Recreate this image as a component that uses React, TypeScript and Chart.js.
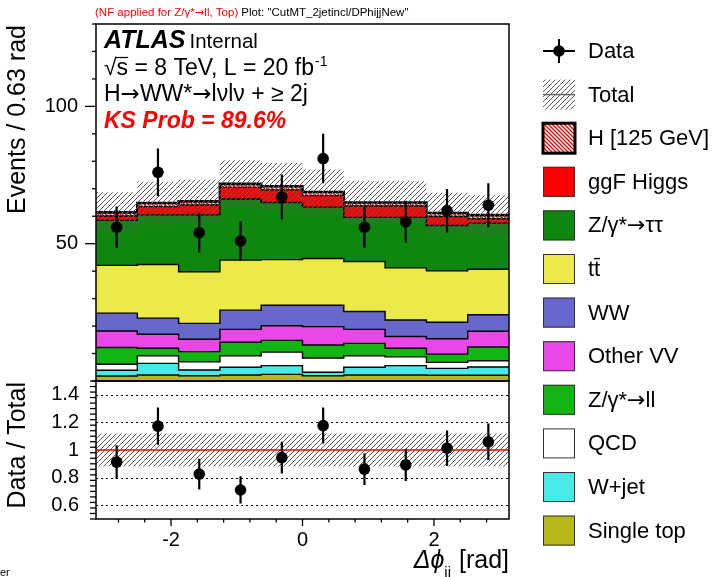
import React, { useEffect, useRef } from "react";
import { Chart, registerables } from "chart.js";
Chart.register(...registerables);

// ---------------- data ----------------
const binEdges = [-3.1416, -2.5133, -1.885, -1.2566, -0.6283, 0, 0.6283, 1.2566, 1.885, 2.5133, 3.1416];
const binCenters = [-2.8274, -2.1991, -1.5708, -0.9425, -0.3142, 0.3142, 0.9425, 1.5708, 2.1991, 2.8274];

const singleTop = [1.8, 2.2, 1.9, 2.2, 2.4, 1.9, 2.2, 2.2, 2.1, 2.1];
const wJet = [2.1, 4.2, 2.1, 2.8, 3.2, 1.3, 2.8, 3.4, 2.5, 3.0];
const qcd = [2.2, 2.8, 3.0, 4.2, 4.9, 5.2, 4.2, 3.2, 2.2, 2.3];
const zll = [6.1, 2.7, 3.7, 4.9, 4.3, 4.7, 4.5, 3.1, 3.0, 5.0];
const otherVV = [6.0, 5.1, 4.5, 4.7, 5.3, 6.7, 5.1, 4.3, 5.6, 5.7];
const ww = [6.5, 5.9, 5.8, 7.0, 7.5, 7.8, 6.5, 6.0, 6.0, 6.0];
const ttbar = [17.4, 19.5, 18.8, 18.2, 16.6, 17.0, 18.2, 19.0, 18.7, 16.6];
const zTauTau = [16.4, 18.1, 20.7, 22.3, 20.8, 18.7, 16.1, 18.4, 16.5, 16.8];
const ggFHiggs = [1.6, 3.0, 3.6, 4.2, 4.6, 4.2, 4.1, 4.1, 3.3, 1.6];
const h125 = [1.3, 1.3, 1.3, 1.3, 1.3, 1.3, 1.3, 1.3, 1.3, 1.3];

const dataCounts = [56, 76, 54, 51, 67, 81, 56, 58, 62, 64];
const dataErrors = [7.5, 8.7, 7.3, 7.1, 8.2, 9.0, 7.5, 7.6, 7.9, 8.0];
const totalRelUnc = [0.12, 0.12, 0.12, 0.12, 0.12, 0.12, 0.12, 0.12, 0.12, 0.12];

const upperYTicks = [50, 100];
const upperYLabels = ["50", "100"];
const lowerYTicks = [0.6, 0.8, 1, 1.2, 1.4];
const lowerYLabels = ["0.6", "0.8", "1", "1.2", "1.4"];
const xTicks = [-2, 0, 2];
const xLabels = ["-2", "0", "2"];
const ratioGridLines = [0.6, 0.8, 1.2, 1.4];

const legendLabels = [
  "Data", "Total", "H [125 GeV]", "ggF Higgs", "Z/\u03b3*\u2192\u03c4\u03c4", "t\u0074\u0304",
  "WW", "Other VV", "Z/\u03b3*\u2192ll", "QCD", "W+jet", "Single top",
];

// ---------------- styles ----------------
const SANS = '"Liberation Sans", Arial, Helvetica, "DejaVu Sans", sans-serif';
const ARROWFONT = '"DejaVu Sans", sans-serif';
const layerColors = ["#b8b81a", "#47e9e9", "#ffffff", "#13b513", "#ea46ea", "#6767cc", "#ebea48", "#0f870f", "#ff0000"];

function makeHatch(ctx: CanvasRenderingContext2D, color: string, bg: string | null, dir: number, size: number, lw: number) {
  const c = document.createElement("canvas");
  c.width = size; c.height = size;
  const g = c.getContext("2d")!;
  if (bg) { g.fillStyle = bg; g.fillRect(0, 0, size, size); }
  g.strokeStyle = color; g.lineWidth = lw;
  g.beginPath();
  if (dir > 0) {
    g.moveTo(-1, size + 1); g.lineTo(size + 1, -1);
    g.moveTo(-1, 1); g.lineTo(1, -1);
    g.moveTo(size - 1, size + 1); g.lineTo(size + 1, size - 1);
  } else {
    g.moveTo(-1, -1); g.lineTo(size + 1, size + 1);
    g.moveTo(size - 1, -1); g.lineTo(size + 1, 1);
    g.moveTo(-1, size - 1); g.lineTo(1, size + 1);
  }
  g.stroke();
  return ctx.createPattern(c, "repeat")!;
}

// text with long arrows (arrows rendered in DejaVu Sans)
function richText(ctx: CanvasRenderingContext2D, str: string, x: number, y: number, style: string, size: number) {
  const parts = str.split("\u2192");
  let cx = x;
  parts.forEach((p, i) => {
    if (p) {
      ctx.font = `${style} ${size}px ${SANS}`;
      ctx.fillText(p, cx, y);
      cx += ctx.measureText(p).width;
    }
    if (i < parts.length - 1) {
      ctx.font = `${style} ${size}px ${ARROWFONT}`;
      ctx.fillText("\u2192", cx, y);
      cx += ctx.measureText("\u2192").width;
    }
  });
  return cx;
}

const step = (vals: number[]) => binEdges.map((x, i) => ({ x, y: vals[Math.min(i, vals.length - 1)] }));

function drawErrBars(chart: any, xs: number[], ys: number[], es: number[]) {
  const { ctx } = chart;
  const sx = chart.scales.x, sy = chart.scales.y;
  ctx.save();
  ctx.strokeStyle = "#000"; ctx.lineWidth = 2.2;
  ctx.beginPath();
  xs.forEach((x, i) => {
    const px = sx.getPixelForValue(x);
    ctx.moveTo(px, sy.getPixelForValue(ys[i] - es[i]));
    ctx.lineTo(px, sy.getPixelForValue(ys[i] + es[i]));
  });
  ctx.stroke();
  ctx.restore();
}

function line(ctx: CanvasRenderingContext2D, x1: number, y1: number, x2: number, y2: number) {
  ctx.beginPath(); ctx.moveTo(x1, y1); ctx.lineTo(x2, y2); ctx.stroke();
}

export default function App() {
  const upRef = useRef<HTMLCanvasElement>(null);
  const loRef = useRef<HTMLCanvasElement>(null);

  useEffect(() => {
    const up = upRef.current!, lo = loRef.current!;
    const uctx = up.getContext("2d")!;
    const lctx = lo.getContext("2d")!;
    const grayHatchU = makeHatch(uctx, "#5c5c5c", null, 1, 5, 1);
    const grayHatchL = makeHatch(lctx, "#5c5c5c", null, 1, 5, 1);
    const redHatch = makeHatch(uctx, "#ff0000", "#ffffff", -1, 4, 1.4);

    const layers = [singleTop, wJet, qcd, zll, otherVV, ww, ttbar, zTauTau, ggFHiggs, h125];
    const cum: number[][] = [];
    let run = layers[0].map(() => 0);
    layers.forEach((l) => { run = run.map((v, i) => v + l[i]); cum.push(run); });
    const total = cum[cum.length - 1];

    const stackSets: any[] = cum.map((vals, k) => ({
      data: step(vals),
      stepped: "before",
      borderColor: "#000",
      borderWidth: k === cum.length - 1 ? 2.6 : 1.4,
      backgroundColor: k === cum.length - 1 ? redHatch : layerColors[k],
      fill: k === 0 ? "origin" : "-1",
      pointRadius: 0,
      order: 1,
    }));

    const upperSets = [
      ...stackSets,
      { data: step(total.map((t, i) => t * (1 - totalRelUnc[i]))), stepped: "before", borderWidth: 0, borderColor: "transparent", pointRadius: 0, fill: false, order: 0 },
      { data: step(total.map((t, i) => t * (1 + totalRelUnc[i]))), stepped: "before", borderWidth: 0, borderColor: "transparent", pointRadius: 0, fill: "-1", backgroundColor: grayHatchU, order: 0 },
      { data: binCenters.map((x, i) => ({ x, y: dataCounts[i] })), showLine: false, pointRadius: 5.8, pointBackgroundColor: "#000", pointBorderWidth: 0, order: -1 },
    ];

    const upperDecor = {
      id: "upperDecor",
      afterDatasetsDraw(chart: any) {
        drawErrBars(chart, binCenters, dataCounts, dataErrors);
      },
      afterDraw(chart: any) {
        const ctx: CanvasRenderingContext2D = chart.ctx;
        const a = chart.chartArea;
        const sy = chart.scales.y;
        ctx.save();
        ctx.strokeStyle = "#000";
        ctx.lineWidth = 1.5;
        ctx.strokeRect(a.left, a.top, a.right - a.left, a.bottom - a.top);
        ctx.lineWidth = 1.3;
        for (let v = 0; v <= 130; v += 10) {
          const py = sy.getPixelForValue(v);
          const major = upperYTicks.includes(v);
          line(ctx, a.left - (major ? 11 : 4), py, a.left, py);
        }
        // header
        ctx.textAlign = "left"; ctx.textBaseline = "alphabetic";
        ctx.fillStyle = "#ff0000";
        const endNote = richText(ctx, "(NF applied for Z/\u03b3*\u2192ll, Top)", 95, 16, "normal", 11.5);
        ctx.fillStyle = "#000";
        ctx.font = `11.5px ${SANS}`;
        ctx.fillText('Plot: "CutMT_2jetincl/DPhijjNew"', endNote + 3, 16);
        // ATLAS label
        ctx.font = `italic bold 25px ${SANS}`;
        ctx.fillText("ATLAS", 104, 48);
        const wa = ctx.measureText("ATLAS").width;
        ctx.font = `20.5px ${SANS}`;
        ctx.fillText("Internal", 104 + wa + 4, 48);
        // sqrt s line
        ctx.font = `23px ${SANS}`;
        const wsq = ctx.measureText("\u221a").width;
        const s1 = "\u221as = 8 TeV, L = 20 fb";
        ctx.fillText(s1, 104, 75);
        const ws = ctx.measureText("\u221as").width;
        ctx.strokeStyle = "#000";
        ctx.lineWidth = 1.2;
        line(ctx, 104 + wsq - 1, 75 - 17.5, 104 + ws, 75 - 17.5);
        const w1 = ctx.measureText(s1).width;
        ctx.font = `14px ${SANS}`;
        ctx.fillText("-1", 104 + w1 + 1, 66);
        richText(ctx, "H\u2192WW*\u2192l\u03bdl\u03bd + \u2265 2j", 104, 101, "normal", 23);
        ctx.font = `italic bold 23px ${SANS}`;
        ctx.fillStyle = "#ff0000";
        ctx.fillText("KS Prob = 89.6%", 104, 128);
        // axis titles
        ctx.fillStyle = "#000";
        ctx.font = `25px ${SANS}`;
        ctx.save();
        ctx.translate(25, 25); ctx.rotate(-Math.PI / 2);
        ctx.textAlign = "right";
        ctx.fillText("Events / 0.63 rad", 0, 0);
        ctx.restore();
        ctx.save();
        ctx.translate(25, 382); ctx.rotate(-Math.PI / 2);
        ctx.textAlign = "right";
        ctx.fillText("Data / Total", 0, 0);
        ctx.restore();
        // x title
        ctx.font = `25px ${SANS}`;
        const t3 = " [rad]";
        const w3 = ctx.measureText(t3).width;
        ctx.font = `15px ${SANS}`;
        const wsub = ctx.measureText("jj").width;
        ctx.font = `italic 25px ${SANS}`;
        const t1 = "\u0394\u03d5";
        const wt1 = ctx.measureText(t1).width;
        const x3 = 509 - w3, xs = x3 - wsub - 1, x1 = xs - wt1;
        ctx.fillText(t1, x1, 568);
        ctx.font = `15px ${SANS}`;
        ctx.fillText("jj", xs, 577);
        ctx.font = `25px ${SANS}`;
        ctx.fillText(t3, x3, 568);
        // cut-off corner text
        ctx.font = `11px ${SANS}`;
        ctx.fillText("er", 0, 576);

        // legend
        const bx = 543, bw = 32, bh = 30, tx = 588;
        ctx.textBaseline = "middle";
        legendLabels.forEach((lab, i) => {
          const cy = 51 + i * 43.6;
          if (i === 0) {
            ctx.strokeStyle = "#000"; ctx.lineWidth = 2;
            line(ctx, bx, cy, bx + bw, cy);
            line(ctx, bx + bw / 2, cy - 12, bx + bw / 2, cy + 12);
            ctx.fillStyle = "#000";
            ctx.beginPath(); ctx.arc(bx + bw / 2, cy, 5.8, 0, Math.PI * 2); ctx.fill();
          } else if (i === 1) {
            ctx.fillStyle = grayHatchU;
            ctx.fillRect(bx, cy - bh / 2, bw, bh);
            ctx.strokeStyle = "#666"; ctx.lineWidth = 1.5;
            line(ctx, bx, cy, bx + bw, cy);
          } else if (i === 2) {
            ctx.fillStyle = redHatch;
            ctx.fillRect(bx, cy - bh / 2, bw, bh);
            ctx.strokeStyle = "#000"; ctx.lineWidth = 3;
            ctx.strokeRect(bx, cy - bh / 2, bw, bh);
          } else {
            const k = 11 - i; // legend order from top: ggF(8) ... single top(0)
            ctx.fillStyle = layerColors[k];
            ctx.fillRect(bx, cy - bh / 2, bw, bh);
            ctx.strokeStyle = "#333"; ctx.lineWidth = 1;
            ctx.strokeRect(bx + 0.5, cy - bh / 2 + 0.5, bw - 1, bh - 1);
          }
          ctx.fillStyle = "#000";
          richText(ctx, lab, tx, cy + 1, "normal", 22);
        });
        ctx.restore();
      },
    };

    const c1 = new Chart(up, {
      type: "line",
      data: { datasets: upperSets as any },
      options: {
        responsive: false,
        animation: false,
        devicePixelRatio: 1,
        layout: { padding: { left: 0, right: 204, top: 24, bottom: 196 } },
        plugins: { legend: { display: false }, tooltip: { enabled: false } },
        events: [],
        scales: {
          x: { type: "linear", min: binEdges[0], max: binEdges[binEdges.length - 1], display: false },
          y: {
            type: "linear", min: 0, max: 130,
            grid: { display: false, drawTicks: false },
            border: { display: false },
            ticks: {
              autoSkip: false, padding: 18, color: "#000", font: { family: SANS, size: 20 },
              callback: (_v: any, i: number) => upperYLabels[i],
            },
            afterBuildTicks: (s: any) => { s.ticks = upperYTicks.map((v) => ({ value: v })); },
            afterFit: (s: any) => { s.width = 96; s.paddingTop = 0; s.paddingBottom = 0; },
          },
        },
      } as any,
      plugins: [upperDecor],
    });

    const ratio = dataCounts.map((d, i) => d / total[i]);
    const ratioErr = dataErrors.map((e, i) => e / total[i]);

    const lowerDecor = {
      id: "lowerDecor",
      beforeDatasetsDraw(chart: any) {
        const ctx: CanvasRenderingContext2D = chart.ctx;
        const a = chart.chartArea;
        const sy = chart.scales.y;
        ctx.save();
        ctx.strokeStyle = "#000"; ctx.lineWidth = 1.2;
        ctx.setLineDash([2, 3]);
        ratioGridLines.forEach((v) => {
          const py = Math.round(sy.getPixelForValue(v)) + 0.5;
          line(ctx, a.left, py, a.right, py);
        });
        ctx.restore();
      },
      afterDatasetsDraw(chart: any) {
        drawErrBars(chart, binCenters, ratio, ratioErr);
      },
      afterDraw(chart: any) {
        const ctx: CanvasRenderingContext2D = chart.ctx;
        const a = chart.chartArea;
        const sy = chart.scales.y, sx = chart.scales.x;
        ctx.save();
        ctx.strokeStyle = "#000";
        ctx.lineWidth = 1.5;
        ctx.strokeRect(a.left, a.top, a.right - a.left, a.bottom - a.top);
        ctx.lineWidth = 1.3;
        for (let k = 0; k <= 25; k++) {
          const v = 0.5 + k * 0.04;
          const py = sy.getPixelForValue(v);
          const major = lowerYTicks.some((t) => Math.abs(t - v) < 1e-6);
          line(ctx, a.left - (major ? 11 : 6), py, a.left, py);
        }
        for (let k = -7; k <= 7; k++) {
          const v = k * 0.4;
          const px = sx.getPixelForValue(v);
          const major = xTicks.some((t) => Math.abs(t - v) < 1e-6);
          line(ctx, px, a.bottom, px, a.bottom + (major ? 7 : 3.5));
        }
        ctx.restore();
      },
    };

    const c2 = new Chart(lo, {
      type: "line",
      data: {
        datasets: [
          { data: step(totalRelUnc.map((u) => 1 - u)), stepped: "before", borderWidth: 0, borderColor: "transparent", pointRadius: 0, fill: false, order: 2 },
          { data: step(totalRelUnc.map((u) => 1 + u)), stepped: "before", borderWidth: 0, borderColor: "transparent", pointRadius: 0, fill: "-1", backgroundColor: grayHatchL, order: 2 },
          { data: [{ x: binEdges[0], y: 1 }, { x: binEdges[binEdges.length - 1], y: 1 }], borderColor: "#ff0000", borderWidth: 1.5, pointRadius: 0, fill: false, order: 1 },
          { data: binCenters.map((x, i) => ({ x, y: ratio[i] })), showLine: false, pointRadius: 5.8, pointBackgroundColor: "#000", pointBorderWidth: 0, order: 0 },
        ] as any,
      },
      options: {
        responsive: false,
        animation: false,
        devicePixelRatio: 1,
        layout: { padding: { left: 0, right: 204, top: 381, bottom: 0 } },
        plugins: { legend: { display: false }, tooltip: { enabled: false } },
        events: [],
        scales: {
          x: {
            type: "linear", min: binEdges[0], max: binEdges[binEdges.length - 1],
            grid: { display: false, drawTicks: false },
            border: { display: false },
            ticks: {
              autoSkip: false, maxRotation: 0, padding: 9, color: "#000", font: { family: SANS, size: 20 },
              callback: (_v: any, i: number) => xLabels[i],
            },
            afterBuildTicks: (s: any) => { s.ticks = xTicks.map((v) => ({ value: v })); },
            afterFit: (s: any) => { s.height = 58; s.paddingLeft = 0; s.paddingRight = 0; },
          },
          y: {
            type: "linear", min: 0.5, max: 1.5,
            grid: { display: false, drawTicks: false },
            border: { display: false },
            ticks: {
              autoSkip: false, padding: 17, color: "#000", font: { family: SANS, size: 20 },
              callback: (_v: any, i: number) => lowerYLabels[i],
            },
            afterBuildTicks: (s: any) => { s.ticks = lowerYTicks.map((v) => ({ value: v })); },
            afterFit: (s: any) => { s.width = 96; s.paddingTop = 0; s.paddingBottom = 0; },
          },
        },
      } as any,
      plugins: [lowerDecor],
    });

    return () => { c1.destroy(); c2.destroy(); };
  }, []);

  return (
    <div style={{ position: "fixed", left: 0, top: 0, width: 713, height: 577, background: "#fff" }}>
      <canvas ref={upRef} width={713} height={577} style={{ position: "absolute", left: 0, top: 0 }} />
      <canvas ref={loRef} width={713} height={577} style={{ position: "absolute", left: 0, top: 0 }} />
    </div>
  );
}
